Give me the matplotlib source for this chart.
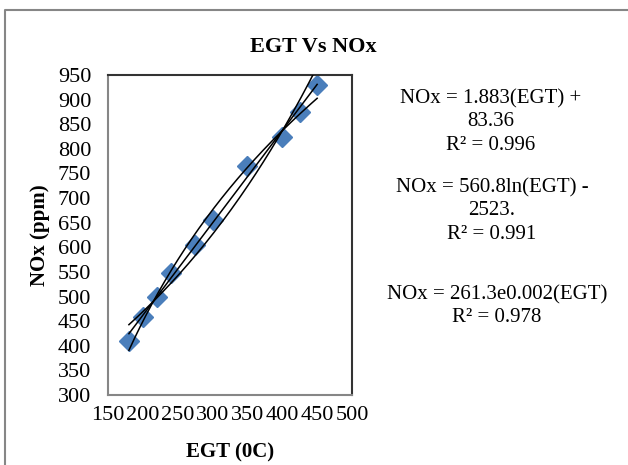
import numpy as np
import matplotlib
matplotlib.use('Agg')
import matplotlib.pyplot as plt
from matplotlib.lines import Line2D

# data
egt = [180, 200, 220, 240, 275, 300, 350, 400, 425, 450]
nox = [410, 458, 500, 548, 605, 655, 765, 825, 875, 930]

x_ticks = [150, 200, 250, 300, 350, 400, 450, 500]
y_ticks = [300, 350, 400, 450, 500, 550, 600, 650, 700, 750, 800, 850, 900, 950]

eq_linear = "NOx = 1.883(EGT) +\n83.36\nR² = 0.996"
eq_log = "NOx = 560.8ln(EGT) -\n2523.\nR² = 0.991"
eq_exp = "NOx = 261.3e0.002(EGT)\nR² = 0.978"

plt.rcParams['font.family'] = ['Liberation Serif', 'DejaVu Serif']

W, H = 628, 465
fig = plt.figure(figsize=(W / 100, H / 100), dpi=100)

# outer chart border (only top and left edges show in the crop)
fig.lines.append(Line2D([5 / W, 5 / W, 1], [0, 1 - 10 / H, 1 - 10 / H],
                        transform=fig.transFigure, color='#868686', linewidth=1.5))

ax = fig.add_axes([108 / W, 1 - 395 / H, 244 / W, 320 / H])

x = np.array(egt, dtype=float)
y = np.array(nox, dtype=float)
ax.plot(x, y, linestyle='none', marker='D', markersize=10,
        color='#4A7EBB', zorder=2)

# trendlines fitted to the data (linear, logarithmic, exponential)
xs = np.linspace(x.min(), x.max(), 200)
a, b = np.polyfit(x, y, 1)
ax.plot(xs, a * xs + b, color='black', linewidth=1.1, zorder=3)
c, d = np.polyfit(np.log(x), y, 1)
ax.plot(xs, c * np.log(xs) + d, color='black', linewidth=1.1, zorder=3)
k, m = np.polyfit(x, np.log(y), 1)
ax.plot(xs, np.exp(m) * np.exp(k * xs), color='black', linewidth=1.1, zorder=3)

ax.set_xlim(150, 500)
ax.set_ylim(300, 950)
ax.set_xticks(x_ticks)
ax.set_yticks(y_ticks)
ax.tick_params(length=0, labelsize=16)
ax.tick_params(axis='x', pad=8)
ax.tick_params(axis='y', pad=12)

for side in ['left', 'bottom']:
    ax.spines[side].set_color('#868686')
    ax.spines[side].set_linewidth(1.5)
for side in ['top', 'right']:
    ax.spines[side].set_color('#333333')
    ax.spines[side].set_linewidth(1.5)

fig.text(313 / W, 1 - 47 / H, "EGT Vs NOx", ha='center', va='center',
         fontsize=16, fontweight='bold')
fig.text(230 / W, 1 - 452 / H, "EGT (0C)", ha='center', va='center',
         fontsize=15, fontweight='bold')
fig.text(40 / W, 1 - 235 / H, "NOx (ppm)", ha='center', va='center',
         fontsize=15, fontweight='bold', rotation=90)

fig.text(491 / W, 1 - 89 / H, eq_linear, ha='center', va='top',
         fontsize=15, linespacing=1.3)
fig.text(492 / W, 1 - 178 / H, eq_log, ha='center', va='top',
         fontsize=15, linespacing=1.3)
fig.text(497 / W, 1 - 285 / H, eq_exp, ha='center', va='top',
         fontsize=15, linespacing=1.3)

fig.savefig('out.png', dpi=100)
